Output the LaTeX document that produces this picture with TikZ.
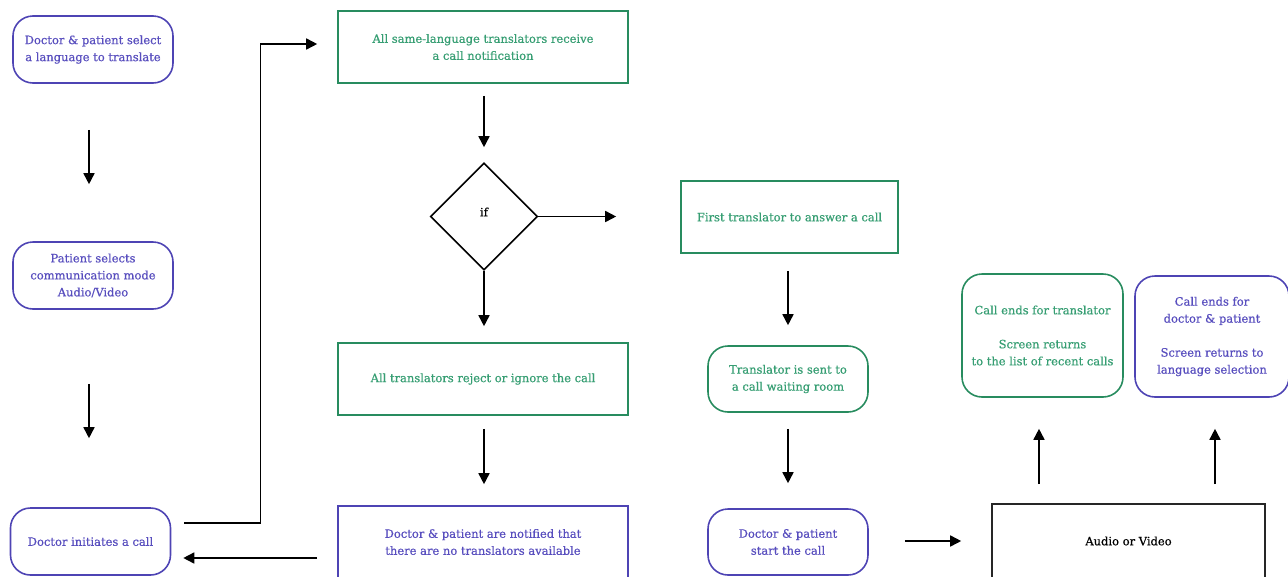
\documentclass[tikz,border=0pt]{standalone}
\usepackage{fontspec}
\setmainfont{DejaVu Serif}
\newfontfamily\boxfont{DejaVu Serif}[FakeBold=0.7]
\usetikzlibrary{arrows.meta,shapes.geometric,calc}
\definecolor{pur}{RGB}{78,68,180}
\definecolor{purtxt}{RGB}{88,78,190}
\definecolor{grn}{RGB}{40,140,95}
\definecolor{grntxt}{RGB}{55,158,115}
\begin{document}
\begin{tikzpicture}[x=1pt,y=-1pt,
  base/.style={draw, line width=1.6pt, align=center, inner sep=0pt,
    font=\boxfont\fontsize{11.5}{17}\selectfont},
  pround/.style={base, draw=pur, text=purtxt, rounded corners=20pt},
  gsq/.style={base, draw=grn, text=grntxt},
  psq/.style={base, draw=pur, text=purtxt},
  ground/.style={base, draw=grn, text=grntxt, rounded corners=20pt},
  ksq/.style={base, draw=black!85, text=black},
  arr/.style={line width=1.6pt, -{Triangle[length=11pt,width=11pt]}}]
\useasboundingbox (0,0) rectangle (1288,576);

% left column
\node[pround, minimum width=160, minimum height=67] (n1) at (93,49.5)
  {Doctor \& patient select\\a language to translate};
\node[pround, minimum width=160, minimum height=67] (n3) at (93,275.5)
  {Patient selects\\communication mode\\Audio/Video};
\node[pround, minimum width=160, minimum height=67] (n5) at (90.5,541.5)
  {Doctor initiates a call};

% second column
\node[gsq, minimum width=290, minimum height=72] (n8) at (483,47)
  {All same-language translators receive\\a call notification};
\node[draw, line width=1.6pt, diamond, minimum width=107, minimum height=107,
  inner sep=0pt] (dia) at (484,216.5) {};
\node[font=\boxfont\fontsize{11.5}{17}\selectfont] (iftext) at (484,212) {if};
\node[gsq, minimum width=290, minimum height=72] (n13) at (483,379)
  {All translators reject or ignore the call};
\node[psq, minimum width=290, minimum height=72] (n15) at (483,542)
  {Doctor \& patient are notified that\\there are no translators available};

% third column
\node[gsq, minimum width=217, minimum height=72] (n16) at (789.5,217)
  {First translator to answer a call};
\node[ground, minimum width=160, minimum height=66] (n18) at (788,379)
  {Translator is sent to\\a call waiting room};
\node[pround, minimum width=160, minimum height=66] (n20) at (788,542)
  {Doctor \& patient\\start the call};

% right part
\node[ksq, minimum width=273, minimum height=74] (n22) at (1128.5,541)
  {Audio or Video};
\node[ground, minimum width=161, minimum height=123] (n25) at (1042.5,335.5)
  {Call ends for translator\\[17pt]Screen returns\\to the list of recent calls};
\node[pround, minimum width=154, minimum height=121] (n26) at (1212,336.5)
  {Call ends for\\doctor \& patient\\[17pt]Screen returns to\\language selection};

% connectors
\draw[arr, shorten <=46pt, shorten >=57pt] ([xshift=-4pt]n1.south) -- ([xshift=-4pt]n3.north);
\draw[arr, shorten <=74pt, shorten >=69pt] ([xshift=-4pt]n3.south) -- ([xshift=-1.5pt]n5.north);
\draw[arr] ($(n5.east)+(13,-18.5)$) -- ++(76,0) |- ($(n8.west)+(-20,-3)$);
\draw[arr] ($(n15.west)+(-20,16)$) -- ($(n5.east)+(12,16.5)$);
\draw[arr, shorten <=12pt, shorten >=15pt] ([xshift=1pt]n8.south) -- (dia.north);
\draw[arr, shorten >=64pt] (dia.east) -- (dia.east -| n16.west);
\draw[arr, shorten >=16pt] (dia.south) -- ([xshift=1pt]n13.north);
\draw[arr, shorten <=13pt, shorten >=21pt] ([xshift=1pt]n13.south) -- ([xshift=1pt]n15.north);
\draw[arr, shorten <=17pt, shorten >=20pt] ([xshift=-1.5pt]n16.south) -- (n18.north);
\draw[arr, shorten <=16pt, shorten >=25pt] (n18.south) -- (n20.north);
\draw[arr, shorten <=36pt, shorten >=30pt] ([yshift=1pt]n20.east) -- (n22.west);
\draw[arr, shorten <=19pt, shorten >=31pt] ([xshift=-3.5pt]n22.north -| n25.south) -- ([xshift=-3.5pt]n25.south);
\draw[arr, shorten <=19pt, shorten >=31pt] ([xshift=3pt]n22.north -| n26.south) -- ([xshift=3pt]n26.south);
\end{tikzpicture}
\end{document}
